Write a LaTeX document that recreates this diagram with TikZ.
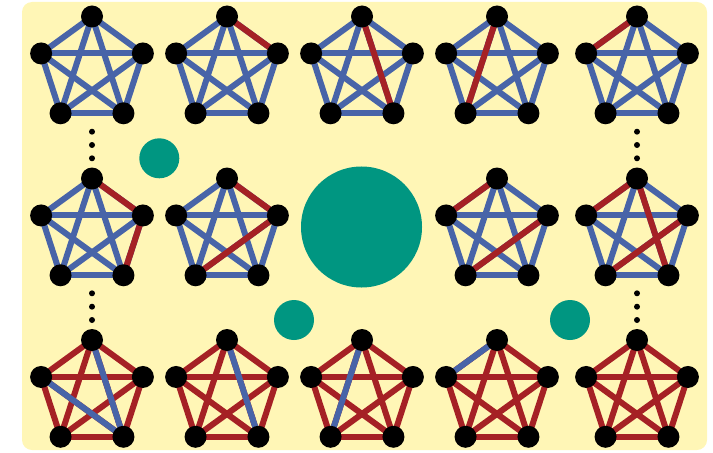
\documentclass[tikz,border=0pt]{standalone}
\usepackage{tikz}
\usetikzlibrary{calc}
\definecolor{ramseyBlue}{HTML}{4864A8}
\definecolor{ramseyRed}{HTML}{A52125}
\definecolor{ramseyGreen}{HTML}{009681}
\definecolor{ramseyPaper}{HTML}{FFF6B6}
\pgfdeclarelayer{paper}
\pgfdeclarelayer{edges}
\pgfsetlayers{paper,edges,main}

% K5 at a centre: name, centre, base edge style, marked edge style, marked edges
\newcommand{\kfive}[5]{%
  \foreach \v/\a in {t/270,l/198,r/342,bl/126,br/54}
    \node[vertex] (#1-\v) at ($#2+(\a:53.5)$) {};
  \begin{pgfonlayer}{edges}
    \foreach \p/\q in {t/l,t/r,l/bl,r/br,bl/br,t/bl,t/br,l/r,l/br,r/bl}
      \draw[#3] (#1-\p.center) -- (#1-\q.center);
    \foreach \p/\q in {#5}
      \draw[#4] (#1-\p.center) -- (#1-\q.center);
  \end{pgfonlayer}
}

\begin{document}
\begin{tikzpicture}[
    x=0.03cm, y=-0.03cm,
    vertex/.style={circle, fill=black, inner sep=0pt, minimum size=0.66cm},
    ellip/.style={circle, fill=black, inner sep=0pt, minimum size=0.18cm},
    blob/.style={circle, fill=ramseyGreen, inner sep=0pt},
    blue edge/.style={draw=ramseyBlue, line width=0.18cm},
    red edge/.style={draw=ramseyRed, line width=0.18cm}
  ]
    \useasboundingbox (0,0) rectangle (713,452);
    \begin{pgfonlayer}{paper}
      \fill[ramseyPaper, rounded corners=3mm] (22,2) rectangle (707,450);
    \end{pgfonlayer}

    % top row: mostly blue
    \kfive{a1}{(92,70)}{blue edge}{red edge}{}
    \kfive{a2}{(227,70)}{blue edge}{red edge}{t/r}
    \kfive{a3}{(362,70)}{blue edge}{red edge}{t/br}
    \kfive{a4}{(497,70)}{blue edge}{red edge}{t/bl}
    \kfive{a5}{(637,70)}{blue edge}{red edge}{t/l}

    % middle row
    \kfive{b1}{(92,232)}{blue edge}{red edge}{t/r,r/br}
    \kfive{b2}{(227,232)}{blue edge}{red edge}{t/r,r/bl}
    \kfive{b4}{(497,232)}{blue edge}{red edge}{t/l,r/bl}
    \kfive{b5}{(637,232)}{blue edge}{red edge}{t/l,t/br,r/bl}

    % bottom row: mostly red
    \kfive{c1}{(92,393.5)}{red edge}{blue edge}{t/br,l/br}
    \kfive{c2}{(227,393.5)}{red edge}{blue edge}{t/br}
    \kfive{c3}{(362,393.5)}{red edge}{blue edge}{t/bl}
    \kfive{c4}{(497,393.5)}{red edge}{blue edge}{t/l}
    \kfive{c5}{(637,393.5)}{red edge}{blue edge}{}

    % vertical dots
    \foreach \x/\n in {92/a,637/b}
      \foreach \y [count=\k] in {131.7,145,158.3,293.3,306.7,320}
        \node[ellip] (dots\n\k) at (\x,\y) {};

    \node[blob, minimum size=3.63cm] (hub) at (361.5,227) {};
    \node[blob, minimum size=1.2cm] (spotA) at (159.3,158.3) {};
    \node[blob, minimum size=1.2cm] (spotB) at (294,320) {};
    \node[blob, minimum size=1.2cm] (spotC) at (570,320) {};
  \end{tikzpicture}
\end{document}
